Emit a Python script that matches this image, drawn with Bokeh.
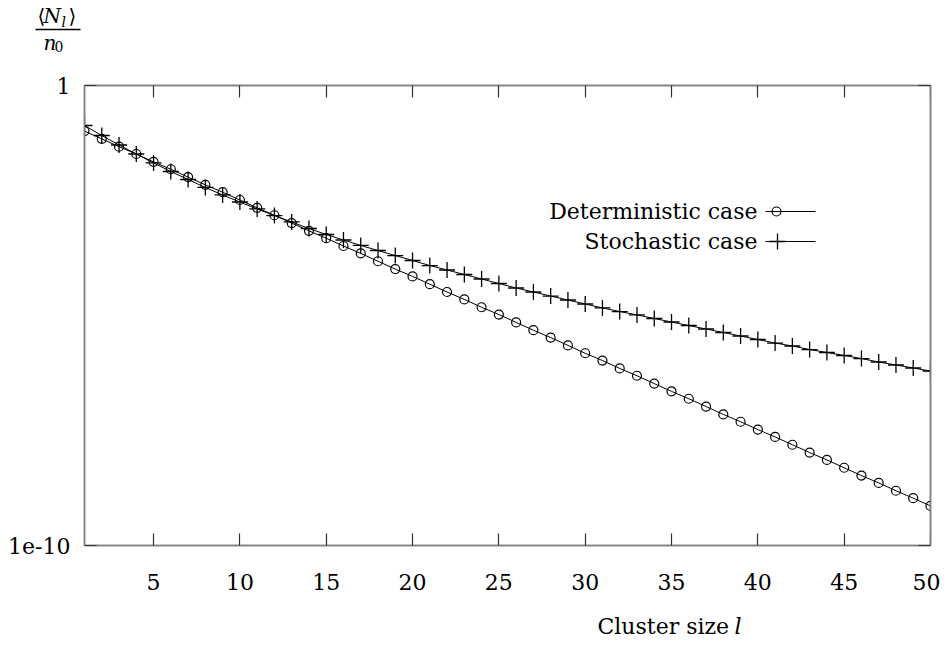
from bokeh.plotting import figure
from bokeh.layouts import column
from bokeh.models import (Range1d, FixedTicker, LinearAxis, LogAxis, Label, LinearScale,
                          CustomJSTickFormatter, ColumnDataSource)
from bokeh.core.properties import value
from bokeh.embed import file_html
from bokeh.resources import INLINE

# ---- data ----
cluster_size = list(range(1, 51))

deterministic = [
    1.02e-1, 6.92e-2, 4.68e-2, 3.24e-2, 2.19e-2, 1.51e-2, 1.02e-2, 6.92e-3, 4.79e-3, 3.24e-3,
    2.19e-3, 1.51e-3, 1.02e-3, 6.92e-4, 4.79e-4, 3.24e-4, 2.24e-4, 1.51e-4, 1.02e-4, 7.08e-5,
    4.79e-5, 3.24e-5, 2.24e-5, 1.51e-5, 1.05e-5, 7.08e-6, 4.79e-6, 3.31e-6, 2.24e-6, 1.51e-6,
    1.05e-6, 7.08e-7, 4.90e-7, 3.31e-7, 2.24e-7, 1.55e-7, 1.05e-7, 7.08e-8, 4.90e-8, 3.31e-8,
    2.29e-8, 1.55e-8, 1.05e-8, 7.24e-9, 4.90e-9, 3.31e-9, 2.29e-9, 1.55e-9, 1.07e-9, 7.24e-10,
]

stochastic = [
    1.35e-1, 8.18e-2, 5.09e-2, 3.24e-2, 2.07e-2, 1.35e-2, 9.05e-3, 6.07e-3, 4.17e-3, 2.93e-3,
    2.07e-3, 1.49e-3, 1.08e-3, 7.78e-4, 5.77e-4, 4.38e-4, 3.33e-4, 2.59e-4, 2.01e-4, 1.57e-4,
    1.22e-4, 9.75e-5, 7.79e-5, 6.21e-5, 4.96e-5, 3.96e-5, 3.24e-5, 2.65e-5, 2.17e-5, 1.78e-5,
    1.46e-5, 1.22e-5, 1.03e-5, 8.61e-6, 7.22e-6, 6.06e-6, 5.09e-6, 4.27e-6, 3.58e-6, 3.01e-6,
    2.52e-6, 2.17e-6, 1.82e-6, 1.57e-6, 1.35e-6, 1.16e-6, 9.75e-7, 8.39e-7, 7.22e-7, 6.21e-7,
]

x_ticks = [5, 10, 15, 20, 25, 30, 35, 40, 45, 50]
y_ticks = [1e-10, 1]
series_labels = ["Deterministic case", "Stochastic case"]
x_label = "Cluster size"
x_label_var = "l"

FONT = "DejaVu Serif"
FS = "22px"
GRAY = "#7f7f7f"
TICK = "#333333"

W = 940
FW, FH = 846, 460
TOP_H = 70      # strip holding the y-axis fraction
BOT_H = 43      # strip holding the x-axis title


def strip(height):
    f = figure(width=W, height=height, x_range=Range1d(0, W), y_range=Range1d(height, 0),
               min_border=0, output_backend="svg", toolbar_location=None,
               background_fill_color="white", border_fill_color="white")
    f.axis.visible = False
    f.grid.visible = False
    f.outline_line_color = None
    try:
        f.frame_align = False
    except Exception:
        pass
    return f


# ---- top strip: <N_l> / n_0 ----
top_fig = strip(TOP_H)
frac = dict(
    x=[37, 43, 61, 68, 43, 54],
    y=[15, 15, 21, 15, 42, 46],
    t=["⟨", "N", "l", "⟩", "n", "0"],
    size=["20px", "20px", "14px", "20px", "20px", "14px"],
    style=["normal", "italic", "italic", "normal", "italic", "normal"],
)
for xx, yy, tt, ss, st in zip(frac["x"], frac["y"], frac["t"], frac["size"], frac["style"]):
    top_fig.text(x=[xx], y=[yy], text=[tt], text_font=value(FONT), text_font_size=ss,
                 text_font_style=st, text_align="left", text_baseline="middle",
                 text_color="black")
top_fig.segment(x0=[35], y0=[29], x1=[80], y1=[29], line_color="black", line_width=1.5)

# ---- main plot ----
p = figure(frame_width=FW, frame_height=FH,
           min_border_left=84, min_border_right=10, min_border_top=15, min_border_bottom=57,
           x_range=Range1d(1, 50), y_range=Range1d(1e-10, 1), y_axis_type="log",
           output_backend="svg", toolbar_location=None,
           background_fill_color="white", border_fill_color="white")
p.grid.visible = False
p.outline_line_color = GRAY
p.outline_line_width = 1.5
try:
    p.frame_align = False
except Exception:
    pass

p.extra_x_ranges = {"px": Range1d(0, FW)}
p.extra_y_ranges = {"px": Range1d(0, FH)}
p.extra_x_scales = {"px": LinearScale()}
p.extra_y_scales = {"px": LinearScale()}

empty_fmt = CustomJSTickFormatter(code="return '';")


def style_axis(ax, labels=True):
    ax.axis_line_color = GRAY
    ax.axis_line_width = 1.5
    ax.major_tick_in = 12
    ax.major_tick_out = 0
    ax.minor_tick_in = 0
    ax.minor_tick_out = 0
    ax.major_tick_line_color = TICK
    ax.major_tick_line_width = 1.2
    ax.major_label_text_font = FONT
    ax.major_label_text_color = "black"
    if labels:
        ax.major_label_text_font_size = FS
    else:
        ax.formatter = empty_fmt
        ax.major_label_text_font_size = "0px"
        ax.major_label_standoff = 0


xt = FixedTicker(ticks=x_ticks, minor_ticks=[])
yt = FixedTicker(ticks=y_ticks, minor_ticks=[])
yfmt = CustomJSTickFormatter(code="return tick > 0.5 ? '1' : '1e-10';")

p.xaxis.ticker = xt
style_axis(p.xaxis[0])
p.xaxis.major_label_standoff = 28

p.yaxis.ticker = yt
p.yaxis.formatter = yfmt
style_axis(p.yaxis[0])
p.yaxis.major_label_standoff = 14

top = LinearAxis(ticker=xt)
style_axis(top, labels=False)
p.add_layout(top, "above")

right = LogAxis(ticker=yt)
style_axis(right, labels=False)
p.add_layout(right, "right")

src = ColumnDataSource(dict(l=cluster_size, det=deterministic, sto=stochastic))

# stochastic case
p.line("l", "sto", source=src, line_color="black", line_width=1)
p.scatter("l", "sto", source=src, marker="cross", size=16, line_color="black", line_width=1.3)

# deterministic case
p.line("l", "det", source=src, line_color="black", line_width=1)
p.scatter("l", "det", source=src, marker="circle", size=9, line_color="black",
          fill_alpha=0, line_width=1.2)

# ---- legend (gnuplot style: text then sample) ----
leg_y = [334, 304]
p.line([681, 731], [leg_y[0], leg_y[0]], x_range_name="px", y_range_name="px",
       line_color="black", line_width=1)
p.scatter([692], [leg_y[0]], x_range_name="px", y_range_name="px", marker="circle",
          size=9, line_color="black", fill_alpha=0, line_width=1.2)
p.line([681, 731], [leg_y[1], leg_y[1]], x_range_name="px", y_range_name="px",
       line_color="black", line_width=1)
p.scatter([693], [leg_y[1]], x_range_name="px", y_range_name="px", marker="cross",
          size=16, line_color="black", line_width=1.3)
for txt, yy in zip(series_labels, leg_y):
    p.add_layout(Label(x=673, y=yy, x_units="screen", y_units="screen", text=txt,
                       text_font=FONT, text_font_size=FS, text_align="right",
                       text_baseline="middle", text_color="black"))

# ---- bottom strip: x-axis title ----
bot_fig = strip(BOT_H)
bot_fig.text(x=[597], y=[24], text=[x_label], text_font=value(FONT), text_font_size=FS,
             text_align="left", text_baseline="middle", text_color="black")
bot_fig.text(x=[734], y=[24], text=[x_label_var], text_font=value(FONT), text_font_size=FS,
             text_font_style="italic", text_align="left", text_baseline="middle",
             text_color="black")

layout = column(top_fig, p, bot_fig, spacing=0)
open("out.html", "w").write(file_html(layout, INLINE))
